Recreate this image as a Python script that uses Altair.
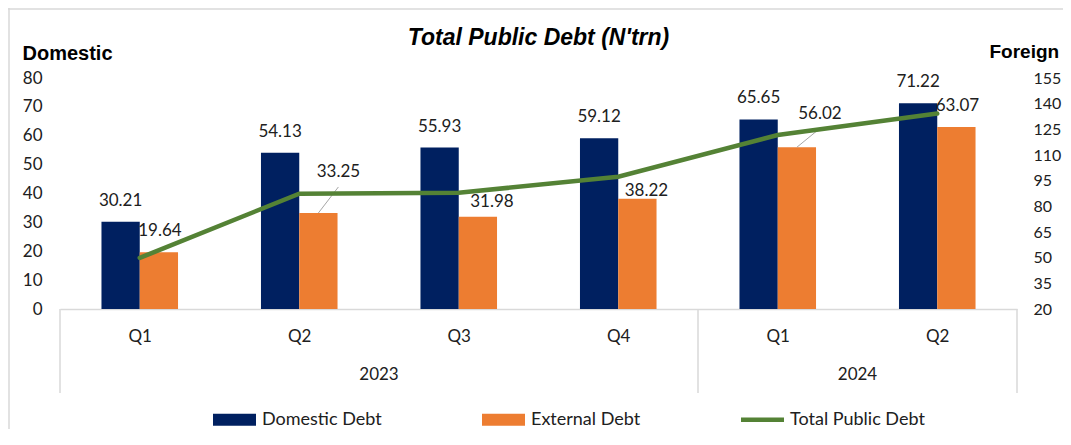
import altair as alt
import pandas as pd

# ---------------- data ----------------
quarters = ["Q1", "Q2", "Q3", "Q4", "Q1", "Q2"]
years = ["2023", "2023", "2023", "2023", "2024", "2024"]
domestic = [30.21, 54.13, 55.93, 59.12, 65.65, 71.22]
external = [19.64, 33.25, 31.98, 38.22, 56.02, 63.07]
total = [49.85, 87.38, 87.91, 97.34, 121.67, 134.29]
series = ["Domestic Debt", "External Debt", "Total Public Debt"]
left_ticks = [0, 10, 20, 30, 40, 50, 60, 70, 80]
right_ticks = [20, 35, 50, 65, 80, 95, 110, 125, 140, 155]

# ---------------- styling (label nudges in px) ----------------
ext_dx = [1, 20, 14, 9, 23, 1]
ext_dy = [-21, -41, -15, -8, -33, -21]
leader_off = {1: (20, -26), 4: (22, -18)}

NAVY = "#002060"
ORANGE = "#ED7D31"
GREEN = "#548235"
GRID = "#D9D9D9"
TXT = "#202020"
LBL_FONT = "Lato"
HEAD_FONT = "Liberation Sans"

W, H = 957, 231
HALF = 0.24

df = pd.DataFrame({
    "idx": list(range(len(quarters))),
    "quarter": quarters,
    "year": years,
    "domestic": domestic,
    "external": external,
    "total": total,
})

# year groups for the two-level axis
yr = df.groupby("year", sort=False)["idx"].agg(["min", "max"]).reset_index()
yr["mid"] = (yr["min"] + yr["max"]) / 2
seps = pd.DataFrame({"pos": [yr["min"].min() - 0.5] + list(yr["max"] + 0.5)})

xs = alt.Scale(domain=[-0.5, len(quarters) - 0.5], nice=False, zero=False)
yl = alt.Scale(domain=[0, 80], nice=False)
yrs = alt.Scale(domain=[20, 155], nice=False, zero=False)

label_expr = "[" + ",".join("'%s'" % q for q in quarters) + "][datum.value]"
x_axis = alt.Axis(values=list(range(len(quarters))), labelExpr=label_expr, title=None,
                  ticks=False, grid=False, domainColor=GRID, domainWidth=1.5,
                  labelFont=LBL_FONT, labelFontSize=17, labelColor=TXT, labelPadding=19,
                  labelBaseline="top")
left_axis = alt.Axis(values=left_ticks, title="Domestic", titleAngle=0, titleAlign="left",
                     titleBaseline="alphabetic", titleX=-38, titleY=-19,
                     titleFont=HEAD_FONT, titleFontSize=20, titleFontWeight="bold", titleColor="black",
                     ticks=False, grid=False, domain=False, labelFont=LBL_FONT, labelFontSize=17,
                     labelColor=TXT, labelPadding=18)
right_axis = alt.Axis(values=right_ticks, orient="right", title="Foreign", titleAngle=0,
                      titleAlign="left", titleBaseline="alphabetic", titleX=-28, titleY=-21,
                      titleFont=HEAD_FONT, titleFontSize=19, titleFontWeight="bold", titleColor="black",
                      ticks=False, grid=False, domain=False, labelFont=LBL_FONT, labelFontSize=16,
                      labelColor=TXT, labelPadding=16)

base = alt.Chart(df)

bar_dom = base.transform_calculate(x0="datum.idx - %f" % HALF).mark_bar(color=NAVY).encode(
    x=alt.X("x0:Q", scale=xs, axis=x_axis), x2="idx:Q",
    y=alt.Y("domestic:Q", scale=yl, axis=left_axis), y2=alt.datum(0))
bar_ext = base.transform_calculate(x1="datum.idx + %f" % HALF).mark_bar(color=ORANGE).encode(
    x=alt.X("idx:Q", scale=xs, axis=x_axis), x2="x1:Q",
    y=alt.Y("external:Q", scale=yl, axis=left_axis), y2=alt.datum(0))

dom_lab = base.transform_calculate(xc="datum.idx - %f" % (HALF / 2)).mark_text(
    dy=-21, baseline="middle", font=LBL_FONT, fontSize=17, color=TXT).encode(
    x=alt.X("xc:Q", scale=xs, axis=x_axis),
    y=alt.Y("domestic:Q", scale=yl, axis=left_axis),
    text=alt.Text("domestic:Q", format=".2f"))

ext_layers = []
for i in range(len(quarters)):
    ext_layers.append(
        base.transform_filter("datum.idx == %d" % i)
        .transform_calculate(xc="datum.idx + %f" % (HALF / 2))
        .mark_text(dx=ext_dx[i], dy=ext_dy[i], baseline="middle", font=LBL_FONT,
                   fontSize=17, color=TXT)
        .encode(x=alt.X("xc:Q", scale=xs, axis=x_axis),
                y=alt.Y("external:Q", scale=yl, axis=left_axis),
                text=alt.Text("external:Q", format=".2f")))
    if i in leader_off:
        ldx, ldy = leader_off[i]
        ext_layers.append(
            base.transform_filter("datum.idx == %d" % i)
            .transform_calculate(xc="datum.idx + %f" % (HALF / 2))
            .mark_rule(color="#A6A6A6", strokeWidth=1, x2Offset=ldx, y2Offset=ldy)
            .encode(x=alt.X("xc:Q", scale=xs, axis=x_axis), x2="xc:Q",
                    y=alt.Y("external:Q", scale=yl, axis=left_axis), y2="external:Q"))

sep_rules = alt.Chart(seps).mark_rule(color=GRID, strokeWidth=1.5).encode(
    x=alt.X("pos:Q", scale=xs, axis=x_axis), y=alt.value(H), y2=alt.value(H + 84))
year_text = alt.Chart(yr).mark_text(font=LBL_FONT, fontSize=17, color=TXT, baseline="middle").encode(
    x=alt.X("mid:Q", scale=xs, axis=x_axis), y=alt.value(H + 66), text="year:N")

left = alt.layer(bar_dom, bar_ext, dom_lab, *ext_layers, sep_rules, year_text)

line = base.mark_line(color=GREEN, strokeWidth=4.5, strokeCap="round").encode(
    x=alt.X("idx:Q", scale=xs, axis=x_axis),
    y=alt.Y("total:Q", scale=yrs, axis=right_axis))

# legend (single merged legend from color + shape)
rect_path = "M-1,-0.28H1V0.28H-1Z"
line_path = "M-1,-0.11H1V0.11H-1Z"
leg = alt.Legend(orient="none", legendX=153, legendY=320, direction="horizontal", columns=3,
                 columnPadding=100, title=None, symbolSize=1849, symbolStrokeWidth=0,
                 symbolOpacity=1, labelFont=LBL_FONT, labelFontSize=18, labelColor=TXT,
                 labelOffset=6, padding=0)
legend_layer = alt.Chart(pd.DataFrame({"series": series})).transform_filter("false").mark_point(
    filled=True, opacity=1).encode(
    color=alt.Color("series:N", scale=alt.Scale(domain=series, range=[NAVY, ORANGE, GREEN]), legend=leg),
    shape=alt.Shape("series:N", scale=alt.Scale(domain=series, range=[rect_path, rect_path, line_path]), legend=leg))

frame_df = pd.DataFrame({"k": [0]})
frame_top = alt.Chart(frame_df).mark_rule(color=GRID, strokeWidth=1.5).encode(
    x=alt.value(-52), x2=alt.value(W + 60), y=alt.value(-69), y2=alt.value(-69))
frame_left = alt.Chart(frame_df).mark_rule(color=GRID, strokeWidth=1.5).encode(
    x=alt.value(-51), x2=alt.value(-51), y=alt.value(-70), y2=alt.value(H + 130))

chart = alt.layer(frame_top, frame_left, left, line, legend_layer).resolve_scale(
    y="independent"
).properties(
    width=W, height=H,
    title=alt.TitleParams(text="Total Public Debt (N'trn)", font=HEAD_FONT, fontSize=23,
                          fontStyle="italic", fontWeight="bold", color="black",
                          anchor="middle", frame="group", offset=0, dy=43),
    autosize=alt.AutoSizeParams(type="none"),
    padding={"left": 52, "top": 70, "right": 46, "bottom": 120},
).configure_view(stroke=None)

chart.save("out.html", embed_options={"renderer": "svg", "actions": False})
